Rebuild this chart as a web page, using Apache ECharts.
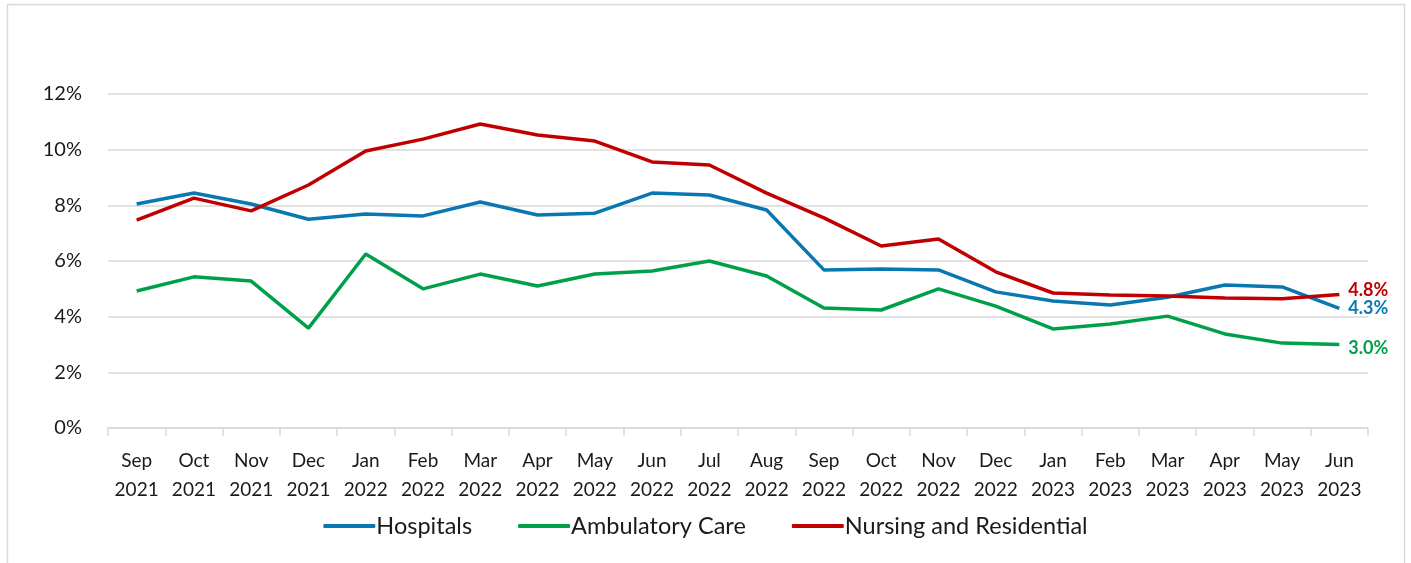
<!DOCTYPE html>
<html>
<head>
<meta charset="utf-8">
<script src="https://cdn.jsdelivr.net/npm/echarts@6/dist/echarts.min.js"></script>
<style>
    html, body { margin: 0; padding: 0; background: #fff; }
    #chart { width: 1411px; height: 563px; }
</style>
</head>
<body>
<div id="chart"></div>
<script>
    const months = ['Sep\n2021', 'Oct\n2021', 'Nov\n2021', 'Dec\n2021', 'Jan\n2022', 'Feb\n2022', 'Mar\n2022', 'Apr\n2022',
        'May\n2022', 'Jun\n2022', 'Jul\n2022', 'Aug\n2022', 'Sep\n2022', 'Oct\n2022', 'Nov\n2022', 'Dec\n2022',
        'Jan\n2023', 'Feb\n2023', 'Mar\n2023', 'Apr\n2023', 'May\n2023', 'Jun\n2023'];

    const hospitals = [8.05, 8.44, 8.05, 7.5, 7.69, 7.62, 8.12, 7.65, 7.72, 8.44, 8.37, 7.83,
        5.68, 5.71, 5.68, 4.89, 4.56, 4.42, 4.7, 5.14, 5.07, 4.3];
    const ambulatory = [4.92, 5.43, 5.28, 3.59, 6.25, 5.0, 5.53, 5.1, 5.53, 5.64, 6.0, 5.46,
        4.31, 4.24, 5.0, 4.38, 3.56, 3.74, 4.02, 3.38, 3.05, 3.0];
    const nursing = [7.47, 8.26, 7.8, 8.73, 9.95, 10.38, 10.92, 10.53, 10.31, 9.56, 9.45, 8.44,
        7.55, 6.54, 6.79, 5.61, 4.85, 4.78, 4.74, 4.67, 4.64, 4.8];

    const font = 'Lato, "Open Sans", sans-serif';

    // one line series, with the last value printed at the right end
    function makeLine(name, data, color, labelDy) {
        return {
            name: name,
            type: 'line',
            data: data,
            symbol: 'none',
            lineStyle: { color: color, width: 3.5 },
            itemStyle: { color: color },
            endLabel: {
                show: true,
                formatter: p => p.value.toFixed(1) + '%',
                color: color,
                fontFamily: font,
                fontWeight: 'bold',
                fontSize: 18,
                distance: 9,
                offset: [0, labelDy]
            }
        };
    }

    let chart = echarts.init(document.getElementById('chart'));
    let option = {
        animation: false,
        graphic: [{
            type: 'rect',
            shape: { x: 7.5, y: 4.5, width: 1397, height: 620 },
            style: { fill: 'none', stroke: '#d9d9d9', lineWidth: 1.5 },
            silent: true
        }],
        grid: { left: 108, right: 43, top: 94, bottom: 135 },
        legend: {
            bottom: 20,
            left: 'center',
            itemWidth: 52,
            itemHeight: 4,
            itemGap: 46,
            icon: 'roundRect',
            textStyle: { fontFamily: font, fontSize: 23.5, color: '#1a1a1a', padding: [0, 0, 0, -4] },
            data: ['Hospitals', 'Ambulatory Care', 'Nursing and Residential']
        },
        xAxis: {
            type: 'category',
            data: months,
            boundaryGap: true,
            axisLine: { lineStyle: { color: '#d9d9d9', width: 1.5 } },
            axisTick: { show: true, length: 8, lineStyle: { color: '#d9d9d9', width: 1.5 } },
            axisLabel: {
                interval: 0,
                margin: 18,
                fontFamily: font,
                fontSize: 19,
                lineHeight: 29,
                color: '#1a1a1a'
            }
        },
        yAxis: {
            type: 'value',
            min: 0,
            max: 12,
            interval: 2,
            axisLine: { show: false },
            axisTick: { show: false },
            splitLine: { lineStyle: { color: '#d9d9d9', width: 1.5 } },
            axisLabel: {
                margin: 26,
                fontFamily: font,
                fontSize: 20,
                color: '#1a1a1a',
                formatter: '{value}%'
            }
        },
        series: [
            makeLine('Hospitals', hospitals, '#0a78b0', 0),
            makeLine('Ambulatory Care', ambulatory, '#00a04a', 4),
            makeLine('Nursing and Residential', nursing, '#c00000', -4)
        ]
    };
    chart.setOption(option);
</script>
</body>
</html>
